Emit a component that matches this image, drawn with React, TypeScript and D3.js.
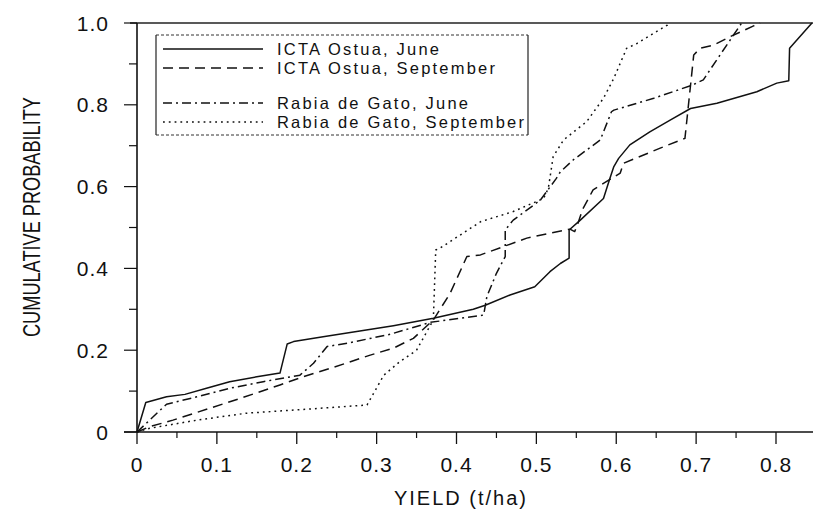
import React from "react";
import * as d3 from "d3";

// ---------- data ----------
const xMajorTicks = [0, 0.1, 0.2, 0.3, 0.4, 0.5, 0.6, 0.7, 0.8];
const xMinorTicks = [0.05, 0.15, 0.25, 0.35, 0.45, 0.55, 0.65, 0.75, 0.85];
const xTickLabels = ["0", "0.1", "0.2", "0.3", "0.4", "0.5", "0.6", "0.7", "0.8"];
const yMajorTicks = [0, 0.2, 0.4, 0.6, 0.8, 1.0];
const yMinorTicks = [0.1, 0.3, 0.5, 0.7, 0.9];
const yTickLabels = ["0", "0.2", "0.4", "0.6", "0.8", "1.0"];

const seriesNames = [
  "ICTA Ostua, June",
  "ICTA Ostua, September",
  "Rabia de Gato, June",
  "Rabia de Gato, September",
];

const ostuaJune: [number, number][] = [
  [0, 0], [0.011, 0.072], [0.037, 0.086], [0.06, 0.092], [0.087, 0.107],
  [0.116, 0.123], [0.15, 0.135], [0.179, 0.144], [0.188, 0.215], [0.196, 0.221],
  [0.233, 0.233], [0.283, 0.248], [0.321, 0.26], [0.371, 0.278], [0.421, 0.3],
  [0.436, 0.31], [0.467, 0.335], [0.498, 0.355], [0.517, 0.392], [0.53, 0.412],
  [0.541, 0.425], [0.541, 0.494], [0.555, 0.518], [0.584, 0.571], [0.592, 0.62],
  [0.597, 0.649], [0.603, 0.669], [0.617, 0.702], [0.642, 0.734], [0.668, 0.763],
  [0.693, 0.791], [0.726, 0.804], [0.776, 0.832], [0.801, 0.853], [0.816, 0.859],
  [0.817, 0.938], [0.845, 1.0],
];

const ostuaSept: [number, number][] = [
  [0, 0], [0.016, 0.013], [0.045, 0.029], [0.091, 0.058], [0.129, 0.082],
  [0.179, 0.115], [0.208, 0.135], [0.246, 0.158], [0.292, 0.188], [0.321, 0.205],
  [0.346, 0.229], [0.371, 0.274], [0.392, 0.339], [0.413, 0.429], [0.43, 0.433],
  [0.488, 0.474], [0.542, 0.496], [0.548, 0.49], [0.552, 0.51], [0.558, 0.545],
  [0.571, 0.592], [0.605, 0.633], [0.609, 0.657], [0.655, 0.694], [0.686, 0.718],
  [0.697, 0.922], [0.705, 0.938], [0.722, 0.946], [0.743, 0.967], [0.772, 0.993],
  [0.78, 1.0],
];

const rabiaJune: [number, number][] = [
  [0, 0], [0.037, 0.068], [0.075, 0.086], [0.116, 0.107], [0.158, 0.123],
  [0.204, 0.139], [0.221, 0.168], [0.238, 0.209], [0.263, 0.217], [0.317, 0.239],
  [0.367, 0.268], [0.434, 0.286], [0.438, 0.331], [0.45, 0.388], [0.461, 0.429],
  [0.461, 0.494], [0.471, 0.518], [0.505, 0.567], [0.525, 0.62], [0.53, 0.636],
  [0.546, 0.665], [0.58, 0.714], [0.594, 0.783], [0.597, 0.787], [0.647, 0.816],
  [0.695, 0.848], [0.709, 0.861], [0.73, 0.922], [0.757, 1.0],
];

const rabiaSept: [number, number][] = [
  [0, 0], [0.016, 0.009], [0.075, 0.029], [0.137, 0.046], [0.2, 0.054],
  [0.288, 0.066], [0.309, 0.139], [0.329, 0.172], [0.35, 0.2], [0.371, 0.274],
  [0.374, 0.445], [0.379, 0.449], [0.43, 0.514], [0.471, 0.539], [0.509, 0.571],
  [0.515, 0.596], [0.521, 0.673], [0.534, 0.714], [0.563, 0.759], [0.584, 0.816],
  [0.597, 0.865], [0.613, 0.938], [0.626, 0.95], [0.664, 0.995], [0.666, 1.0],
];

const allSeries = [ostuaJune, ostuaSept, rabiaJune, rabiaSept];
const dashes = ["none", "10,6", "9,4,2,4", "1.8,4"];

// ---------- chart ----------
const W = 813;
const H = 515;
const FONT = "'Liberation Sans', Arial, Helvetica, sans-serif";
const INK = "#111";

export default function App() {
  const x = d3.scaleLinear().domain([0, 0.8]).range([137, 776]);
  const y = d3.scaleLinear().domain([0, 1]).range([432, 23]);
  const line = d3
    .line<[number, number]>()
    .x((d) => x(d[0]))
    .y((d) => y(d[1]));

  const legendRows = [49, 68, 103, 122];

  return (
    <svg
      width={W}
      height={H}
      style={{ position: "fixed", left: 0, top: 0, background: "#fff" }}
      fontFamily={FONT}
    >
      <rect x={0} y={0} width={W} height={H} fill="#fff" />

      {/* frame: top line, y axis, x axis */}
      <line x1={130} x2={W} y1={y(1)} y2={y(1)} stroke="#222" strokeWidth={1.3} />
      <line x1={x(0)} x2={x(0)} y1={y(1)} y2={y(0)} stroke={INK} strokeWidth={1.6} />
      <line x1={124} x2={W} y1={y(0)} y2={y(0)} stroke={INK} strokeWidth={1.4} />

      {/* x ticks */}
      {xMajorTicks.map((t) => (
        <line key={"xM" + t} x1={x(t)} x2={x(t)} y1={y(0)} y2={y(0) + 12} stroke={INK} strokeWidth={1.3} />
      ))}
      {xMinorTicks.map((t) => (
        <line key={"xm" + t} x1={x(t)} x2={x(t)} y1={y(0)} y2={y(0) + 6} stroke={INK} strokeWidth={1.2} />
      ))}
      {xMajorTicks.map((t, i) => (
        <text
          key={"xl" + t}
          x={x(t)}
          y={472}
          textAnchor="middle"
          fontSize={21}
          letterSpacing={1}
          fill={INK}
        >
          {xTickLabels[i]}
        </text>
      ))}

      {/* y ticks */}
      {yMajorTicks.map((t) => (
        <line key={"yM" + t} x1={x(0) - 13} x2={x(0)} y1={y(t)} y2={y(t)} stroke={INK} strokeWidth={1.2} />
      ))}
      {yMinorTicks.map((t) => (
        <line key={"ym" + t} x1={x(0) - 8} x2={x(0)} y1={y(t)} y2={y(t)} stroke={INK} strokeWidth={1.2} />
      ))}
      {yMajorTicks.map((t, i) => (
        <text
          key={"yl" + t}
          x={109}
          y={y(t) + 7.5}
          textAnchor="end"
          fontSize={21}
          letterSpacing={1}
          fill={INK}
        >
          {yTickLabels[i]}
        </text>
      ))}

      {/* axis titles */}
      <text
        x={461}
        y={505}
        textAnchor="middle"
        fontSize={20}
        letterSpacing={2}
        fill={INK}
      >
        YIELD (t/ha)
      </text>
      <text
        transform={`translate(40,217) rotate(-90)`}
        textAnchor="middle"
        fontSize={23}
        textLength={240}
        lengthAdjust="spacingAndGlyphs"
        fill={INK}
      >
        CUMULATIVE PROBABILITY
      </text>

      {/* series */}
      {allSeries.map((s, i) => (
        <path
          key={"s" + i}
          d={line(s) || ""}
          fill="none"
          stroke={INK}
          strokeWidth={1.5}
          strokeDasharray={dashes[i]}
          strokeLinejoin="round"
        />
      ))}

      {/* legend */}
      <rect x={156} y={35} width={372} height={100} fill="#fff" stroke="none" />
      <line x1={156} x2={528} y1={35} y2={35} stroke="#333" strokeWidth={1} strokeDasharray="3,2" />
      <line x1={156} x2={528} y1={135} y2={135} stroke="#333" strokeWidth={1} strokeDasharray="3,2" />
      <line x1={156} x2={156} y1={35} y2={135} stroke="#222" strokeWidth={1.2} />
      <line x1={528} x2={528} y1={35} y2={135} stroke="#222" strokeWidth={1.2} />
      {seriesNames.map((name, i) => (
        <g key={"lg" + i}>
          <line
            x1={163}
            x2={263}
            y1={legendRows[i]}
            y2={legendRows[i]}
            stroke={INK}
            strokeWidth={1.4}
            strokeDasharray={dashes[i]}
          />
          <text x={277} y={legendRows[i] + 6} fontSize={16.5} letterSpacing={2.2} fill={INK}>
            {name}
          </text>
        </g>
      ))}
    </svg>
  );
}
